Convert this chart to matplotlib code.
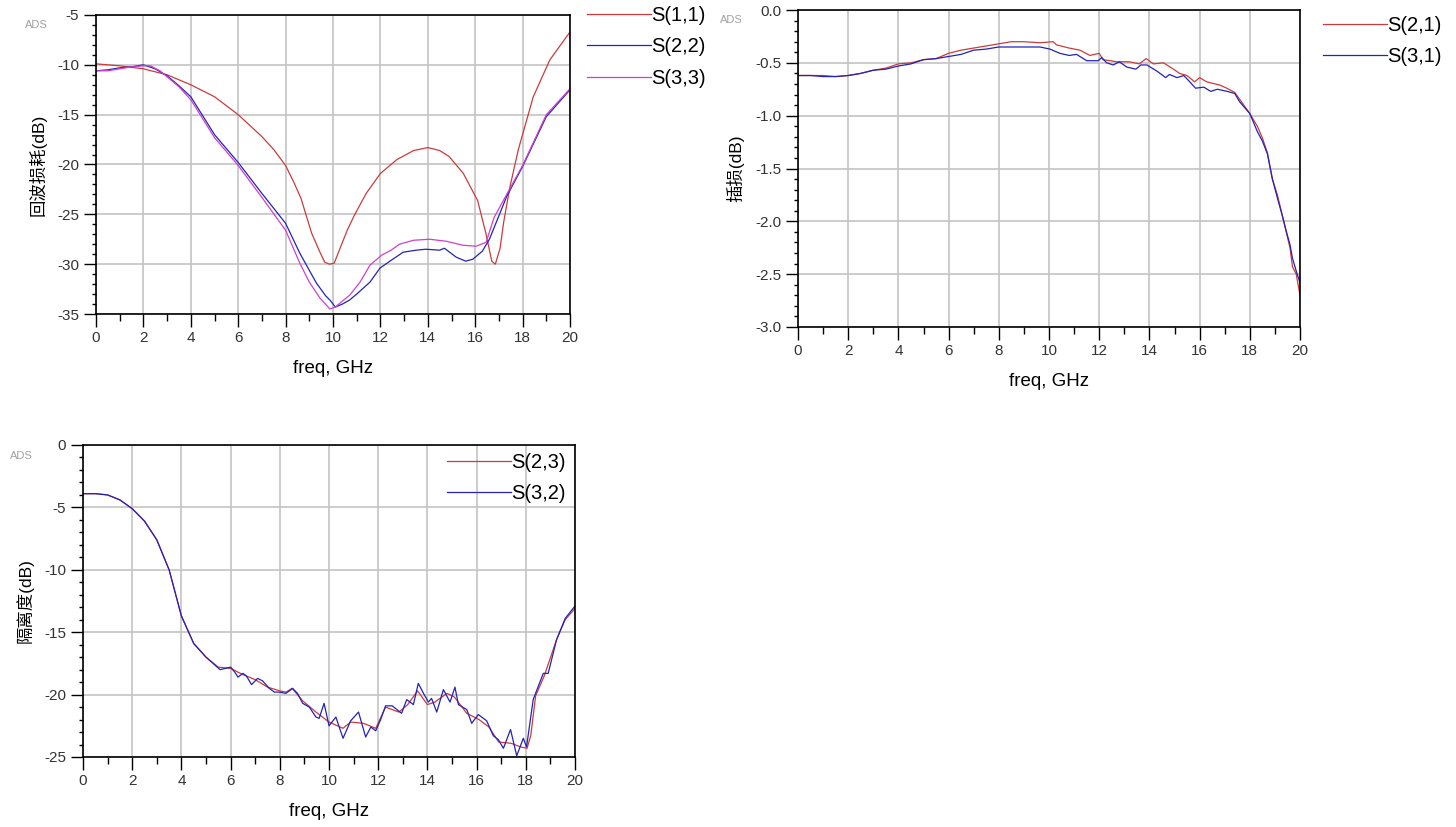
import numpy as np
import matplotlib
matplotlib.use('Agg')
import matplotlib.pyplot as plt
from matplotlib.ticker import MultipleLocator

plt.rcParams['font.family'] = ['Liberation Sans', 'Noto Sans CJK SC', 'DejaVu Sans']

# ---- return loss panel ----
f11 = [0, 1, 2, 3, 4, 5, 6, 7, 7.5, 8, 8.35, 8.65, 9.1, 9.45, 9.65, 9.85, 10.05, 10.3,
       10.6, 10.9, 11.4, 12.0, 12.7, 13.4, 14.0, 14.5, 14.9, 15.5, 16.1, 16.45, 16.7,
       16.85, 17.05, 17.2, 17.47, 17.82, 18.45, 19.15, 20]
s11 = [-9.9, -10.1, -10.4, -11.0, -12.0, -13.2, -15.0, -17.2, -18.5, -20.1, -21.8, -23.4,
       -26.9, -28.8, -29.8, -30.0, -29.9, -28.4, -26.6, -25.1, -22.9, -20.9, -19.5, -18.6,
       -18.3, -18.6, -19.2, -20.9, -23.6, -26.9, -29.7, -30.0, -28.4, -25.8, -22.2, -18.5,
       -13.2, -9.5, -6.7]

f22 = [0, 0.5, 1, 1.5, 2, 2.5, 3, 3.5, 4, 5, 6, 7, 8, 8.6, 9.3, 9.7, 9.87, 10.1, 10.4,
       10.7, 11.0, 11.28, 11.56, 11.98, 12.4, 12.96, 13.5, 13.92, 14.5, 14.7, 15.2, 15.6,
       15.9, 16.3, 16.6, 17.33, 18.0, 19.0, 20]
s22 = [-10.6, -10.5, -10.3, -10.2, -10.0, -10.4, -11.1, -12.1, -13.2, -17.0, -19.8, -22.9,
       -25.9, -28.9, -31.9, -33.2, -33.6, -34.3, -34.0, -33.6, -33.0, -32.4, -31.8, -30.4,
       -29.7, -28.8, -28.6, -28.5, -28.6, -28.4, -29.3, -29.7, -29.5, -28.7, -27.5, -23.2,
       -20.2, -15.2, -12.5]

f33 = [0, 0.5, 1, 1.5, 2, 2.3, 2.7, 3, 3.5, 4, 5, 6, 7, 8, 8.6, 9.0, 9.45, 9.87, 10.1,
       10.4, 10.71, 11.14, 11.56, 12.05, 12.45, 12.8, 13.4, 14.08, 14.78, 15.48, 16.04,
       16.46, 16.8, 17.33, 18.0, 19.0, 20]
s33 = [-10.6, -10.6, -10.4, -10.2, -10.1, -10.1, -10.6, -11.2, -12.2, -13.5, -17.3, -20.1,
       -23.3, -26.6, -29.9, -31.8, -33.4, -34.5, -34.3, -33.7, -33.1, -31.8, -30.1, -29.1,
       -28.6, -28.0, -27.6, -27.5, -27.7, -28.1, -28.2, -27.8, -25.3, -23.0, -20.1, -15.0,
       -12.4]

# ---- insertion loss panel ----
f21 = [0, 0.5, 1, 1.5, 2, 2.5, 3, 3.5, 4, 4.5, 5, 5.5, 6, 6.5, 7, 7.5, 8, 8.5, 9, 9.64,
       10.17, 10.3, 10.8, 11.23, 11.63, 12.0, 12.15, 12.7, 13.2, 13.6, 13.87, 14.16, 14.56,
       14.96, 15.2, 15.5, 15.8, 16.0, 16.28, 16.8, 17.08, 17.4, 17.73, 18.0, 18.3, 18.5,
       18.7, 18.9, 19.1, 19.3, 19.45, 19.6, 19.7, 19.85, 20]
s21 = [-0.62, -0.62, -0.62, -0.63, -0.62, -0.60, -0.57, -0.55, -0.51, -0.50, -0.47, -0.46,
       -0.41, -0.38, -0.36, -0.34, -0.32, -0.30, -0.30, -0.31, -0.30, -0.33, -0.36, -0.38,
       -0.43, -0.41, -0.47, -0.49, -0.49, -0.51, -0.46, -0.51, -0.50, -0.56, -0.60, -0.62,
       -0.68, -0.64, -0.68, -0.71, -0.74, -0.78, -0.89, -0.98, -1.10, -1.21, -1.35, -1.60,
       -1.75, -1.95, -2.10, -2.25, -2.43, -2.50, -2.70]

f31 = [0, 0.5, 1, 1.5, 2, 2.5, 3, 3.5, 4, 4.5, 5, 5.5, 6, 6.5, 7, 7.5, 8, 8.5, 9, 9.64,
       10.04, 10.43, 10.8, 11.1, 11.5, 11.96, 12.1, 12.3, 12.56, 12.8, 13.1, 13.46, 13.66,
       13.9, 14.31, 14.65, 14.8, 15.1, 15.37, 15.57, 15.84, 16.17, 16.44, 16.71, 17.1,
       17.4, 17.6, 18.0, 18.3, 18.5, 18.7, 18.9, 19.1, 19.3, 19.45, 19.6, 19.7, 19.85, 20]
s31 = [-0.62, -0.62, -0.63, -0.63, -0.62, -0.60, -0.57, -0.56, -0.53, -0.51, -0.47, -0.46,
       -0.44, -0.42, -0.38, -0.37, -0.35, -0.35, -0.35, -0.35, -0.37, -0.41, -0.43, -0.42,
       -0.48, -0.48, -0.45, -0.50, -0.52, -0.49, -0.54, -0.56, -0.52, -0.52, -0.58, -0.64,
       -0.61, -0.64, -0.62, -0.67, -0.74, -0.73, -0.77, -0.75, -0.77, -0.79, -0.87, -0.98,
       -1.15, -1.24, -1.36, -1.60, -1.78, -1.95, -2.09, -2.22, -2.35, -2.47, -2.58]

# ---- isolation panel ----
f23 = [0, 0.5, 1, 1.5, 2, 2.5, 3, 3.5, 4, 4.5, 5, 5.5, 6, 6.5, 7, 7.5, 8, 8.25, 8.5,
       8.93, 9.47, 10.0, 10.57, 10.88, 11.4, 11.9, 12.3, 12.84, 13.2, 13.6, 14.0, 14.3,
       14.8, 15.1, 15.6, 16.1, 16.5, 16.9, 17.4, 17.8, 18.05, 18.2, 18.4, 18.75, 19.25,
       19.6, 20]
s23 = [-3.9, -3.9, -4.0, -4.4, -5.1, -6.1, -7.6, -10.0, -13.7, -15.9, -17.0, -17.8, -17.9,
       -18.4, -18.8, -19.4, -19.7, -19.8, -19.5, -20.5, -21.4, -22.2, -22.7, -22.2, -22.3,
       -22.7, -21.0, -21.4, -20.8, -19.7, -20.8, -20.6, -19.9, -20.2, -21.5, -22.0, -22.6,
       -23.8, -23.9, -24.2, -24.3, -23.3, -20.1, -18.5, -15.6, -14.0, -13.1]

f32 = [0, 0.5, 1, 1.5, 2, 2.5, 3, 3.5, 4, 4.5, 5, 5.57, 6.0, 6.17, 6.3, 6.5, 6.64, 6.85,
       7.1, 7.3, 7.57, 7.78, 7.98, 8.25, 8.52, 8.72, 8.93, 9.2, 9.47, 9.6, 9.8, 10.0, 10.28,
       10.57, 10.88, 11.2, 11.49, 11.7, 11.9, 12.1, 12.3, 12.57, 12.95, 13.16, 13.43, 13.63,
       13.84, 14.04, 14.17, 14.38, 14.65, 14.92, 15.12, 15.26, 15.6, 15.8, 16.07, 16.41,
       16.68, 16.88, 17.09, 17.38, 17.63, 17.9, 18.03, 18.3, 18.71, 18.91, 19.25, 19.6, 20]
s32 = [-3.9, -3.9, -4.0, -4.4, -5.1, -6.1, -7.6, -10.0, -13.7, -15.9, -17.0, -18.0, -17.8,
       -18.2, -18.6, -18.3, -18.5, -19.2, -18.7, -18.9, -19.5, -19.8, -19.8, -19.9, -19.5,
       -19.9, -20.7, -21.0, -21.8, -21.9, -20.7, -22.5, -21.8, -23.5, -22.1, -21.4, -23.4,
       -22.6, -22.9, -22.0, -20.9, -20.9, -21.5, -20.4, -20.8, -19.1, -19.9, -20.6, -20.3,
       -21.4, -19.6, -20.6, -19.4, -20.8, -21.2, -22.3, -21.6, -22.1, -23.3, -23.6, -24.3,
       -22.8, -24.9, -23.5, -24.2, -20.4, -18.3, -18.3, -15.6, -13.9, -12.9]

W, H = 1456, 827
red = '#cc3b3b'
blue = '#2323b8'
magenta = '#cf3fcf'


def style_axes(ax, ymin, ymax, ymajor, yminor, fmt):
    ax.set_xlim(0, 20)
    ax.set_ylim(ymin, ymax)
    ax.xaxis.set_major_locator(MultipleLocator(2))
    ax.xaxis.set_minor_locator(MultipleLocator(1))
    ax.yaxis.set_major_locator(MultipleLocator(ymajor))
    ax.yaxis.set_minor_locator(MultipleLocator(yminor))
    ax.yaxis.set_major_formatter(plt.FormatStrFormatter(fmt))
    ax.grid(True, which='major', color='#c4c4c4', linewidth=1.2)
    ax.set_axisbelow(True)
    ax.tick_params(which='major', direction='out', length=9, width=1.0,
                   labelsize=11, colors='black', labelcolor='#333333', pad=3)
    ax.tick_params(axis='y', which='minor', direction='out', length=3, width=1.0)
    ax.tick_params(axis='x', which='minor', direction='out', length=5, width=1.0)
    for s in ax.spines.values():
        s.set_linewidth(1.2)
    ax.set_xlabel('freq, GHz', fontsize=13.5, labelpad=11)


def add_legend(fig, ax, x_px, top_px):
    ax.legend(loc='upper left', bbox_to_anchor=(x_px / W, 1 - top_px / H),
              bbox_transform=fig.transFigure, frameon=False, fontsize=14.5,
              handlelength=3.2, handletextpad=0.0, borderpad=0, borderaxespad=0,
              labelspacing=0.62)


fig = plt.figure(figsize=(W / 100, H / 100), dpi=100)

# return loss
ax1 = fig.add_axes([96 / W, 1 - 314 / H, 474 / W, 299 / H])
ax1.plot(f11, s11, color=red, lw=0.9, label='S(1,1)')
ax1.plot(f22, s22, color=blue, lw=0.9, label='S(2,2)')
ax1.plot(f33, s33, color=magenta, lw=0.9, label='S(3,3)')
style_axes(ax1, -35, -5, 5, 1, '%d')
ax1.set_ylabel('回波损耗(dB)', fontsize=12.5, labelpad=8)
add_legend(fig, ax1, 587, 6)
fig.text(25 / W, 1 - 25 / H, 'ADS', fontsize=8, color='#a0a0a0', va='center')

# insertion loss
ax2 = fig.add_axes([798 / W, 1 - 327 / H, 502 / W, 317 / H])
ax2.plot(f21, s21, color=red, lw=0.9, label='S(2,1)')
ax2.plot(f31, s31, color=blue, lw=0.9, label='S(3,1)')
style_axes(ax2, -3.0, 0.0, 0.5, 0.1, '%.1f')
ax2.set_ylabel('插损(dB)', fontsize=12.5, labelpad=8)
add_legend(fig, ax2, 1323, 16)
fig.text(720 / W, 1 - 20 / H, 'ADS', fontsize=8, color='#a0a0a0', va='center')

# isolation
ax3 = fig.add_axes([83 / W, 1 - 757 / H, 492 / W, 312 / H])
ax3.plot(f23, s23, color=red, lw=0.9, label='S(2,3)')
ax3.plot(f32, s32, color=blue, lw=0.9, label='S(3,2)')
style_axes(ax3, -25, 0, 5, 1, '%d')
ax3.set_ylabel('隔离度(dB)', fontsize=12.5, labelpad=8)
add_legend(fig, ax3, 447, 453)
fig.text(10 / W, 1 - 456 / H, 'ADS', fontsize=8, color='#a0a0a0', va='center')

fig.savefig('out.png', dpi=100)
